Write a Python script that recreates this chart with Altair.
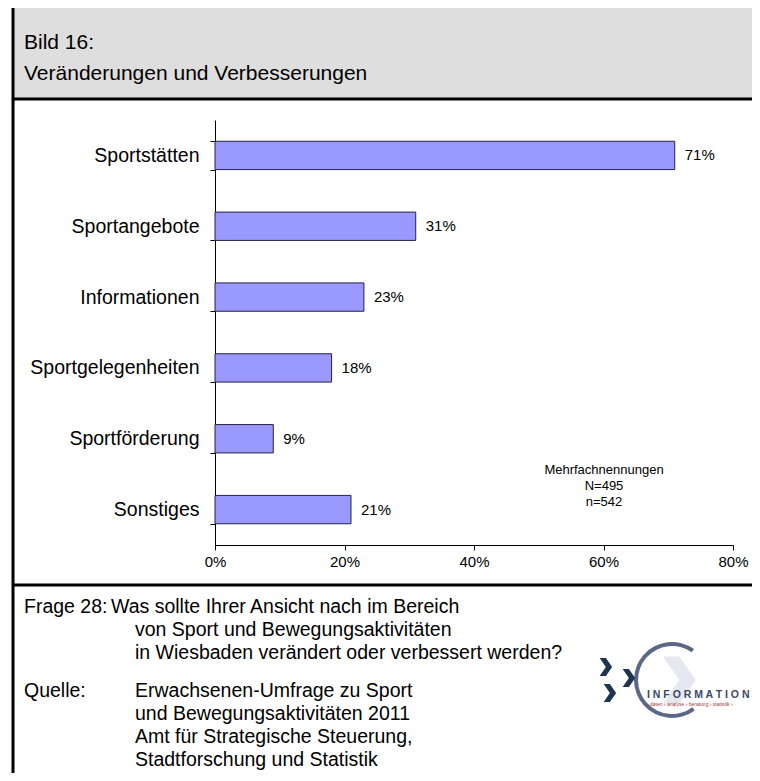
import altair as alt
import pandas as pd

# ---- data ----
categories = ["Sportstätten", "Sportangebote", "Informationen",
              "Sportgelegenheiten", "Sportförderung", "Sonstiges"]
values = [71, 31, 23, 18, 9, 21]
x_ticks = [0, 20, 40, 60, 80]

title_lines = ["Bild 16:", "Veränderungen und Verbesserungen"]
note_lines = ["Mehrfachnennungen", "N=495", "n=542"]
frage_label = "Frage 28:"
frage_lines = ["Was sollte Ihrer Ansicht nach im Bereich",
               "von Sport und Bewegungsaktivitäten",
               "in Wiesbaden verändert oder verbessert werden?"]
quelle_label = "Quelle:"
quelle_lines = ["Erwachsenen-Umfrage zu Sport",
                "und Bewegungsaktivitäten 2011",
                "Amt für Strategische Steuerung,",
                "Stadtforschung und Statistik"]
logo_word = "I N F O R M A T I O N"
logo_sub = "› daten › analyse › beratung › statistik ›"

df = pd.DataFrame({"cat": categories, "val": values,
                   "lab": [f"{v}%" for v in values]})

W, H = 518, 425
one = alt.Data(values=[{"a": 1}])
SANS = "Liberation Sans, Arial, Helvetica"
CHEV = "M-0.6,-1 L0.1,-1 L0.8,0 L0.1,1 L-0.6,1 L0.1,0 Z"

# ---- frame / header ----
header = alt.Chart(one).mark_rect(color="#dedede").encode(
    x=alt.value(-202), x2=alt.value(560), y=alt.value(-114), y2=alt.value(-21))
rules = []
for (x1, x2, y1, y2) in [(-202, -202, -115, 680), (-203, 560, -114, -114),
                         (-202, 560, -21, -21), (-202, 560, 465, 465)]:
    rules.append(alt.Chart(one).mark_rule(color="black", strokeWidth=3).encode(
        x=alt.value(x1), x2=alt.value(x2), y=alt.value(y1), y2=alt.value(y2)))

title_df = pd.DataFrame({"t": title_lines, "i": list(range(len(title_lines)))})
title = alt.Chart(title_df).mark_text(
    align="left", baseline="alphabetic", font=SANS, fontSize=21, color="black"
).encode(x=alt.value(-191),
         y=alt.Y("i:Q", axis=None, scale=alt.Scale(domain=[0, 1], range=[-71, -40])),
         text="t:N")

# ---- bars ----
band = alt.Scale(paddingInner=0.6, paddingOuter=0.3)
y_enc = alt.Y("cat:N", sort=categories, title=None, scale=band,
              axis=alt.Axis(tickBand="extent", tickSize=5, tickColor="black",
                            domainColor="black", labelColor="black",
                            labelFontSize=19.5, labelFont=SANS, labelPadding=11,
                            labelLimit=300))
x_enc = alt.X("val:Q", title=None,
              scale=alt.Scale(domain=[0, 80], nice=False),
              axis=alt.Axis(values=x_ticks, labelExpr="datum.value + '%'",
                            grid=False, tickSize=5, tickColor="black",
                            domainColor="black", labelColor="black",
                            labelFlush=False,
                            labelFontSize=15, labelFont=SANS, labelPadding=4))
bars = alt.Chart(df).mark_bar(color="#9999ff", stroke="#222244",
                              strokeWidth=1).encode(x=x_enc, y=y_enc)
labels = alt.Chart(df).mark_text(align="left", dx=10, fontSize=15, font=SANS,
                                 color="black").encode(
    x=alt.X("val:Q", scale=alt.Scale(domain=[0, 80], nice=False), axis=None),
    y=alt.Y("cat:N", sort=categories, scale=band, axis=None),
    text="lab:N")

note_df = pd.DataFrame({"t": note_lines, "i": list(range(len(note_lines)))})
note = alt.Chart(note_df).mark_text(align="center", fontSize=13, font=SANS,
                                    color="black").encode(
    x=alt.value(389),
    y=alt.Y("i:Q", axis=None, scale=alt.Scale(domain=[0, 2], range=[350, 382])),
    text="t:N")

# ---- footer ----
foot_rows = [{"t": frage_label, "x": -191, "b": 493}]
for k, s in enumerate(frage_lines):
    foot_rows.append({"t": s, "x": -104 if k == 0 else -80, "b": 493 + 23 * k})
foot_rows.append({"t": quelle_label, "x": -191, "b": 577})
for k, s in enumerate(quelle_lines):
    foot_rows.append({"t": s, "x": -80, "b": 577 + 23 * k})
foot_df = pd.DataFrame(foot_rows)
foot = alt.Chart(foot_df).mark_text(align="left", baseline="alphabetic",
                                    font=SANS, fontSize=19.5,
                                    color="black").encode(
    x=alt.X("x:Q", scale=None, axis=None), y=alt.Y("b:Q", scale=None, axis=None),
    text="t:N")

# ---- logo ----
logo_bg = alt.Chart(one).mark_point(
    shape=CHEV, filled=True, color="#e6e8ef", size=2200, opacity=1).encode(
    x=alt.value(462), y=alt.value(560))
arc = alt.Chart(one).mark_arc(radius=38, radius2=34, theta=2.5, theta2=6.9,
                              color="#5b6787").encode(
    x=alt.value(457), y=alt.value(560))
chev_df = pd.DataFrame({"cx": [390, 413, 394], "cy": [547, 558, 573]})
chev = alt.Chart(chev_df).mark_point(
    shape=CHEV, filled=True, color="#1e3450", size=320, opacity=1).encode(
    x=alt.X("cx:Q", scale=None, axis=None), y=alt.Y("cy:Q", scale=None, axis=None))
logo_t = alt.Chart(one).mark_text(align="left", fontSize=10.5, fontWeight="bold",
                                  font=SANS, color="#3a4868").encode(
    x=alt.value(432), y=alt.value(575), text=alt.value(logo_word))
logo_s = alt.Chart(one).mark_text(align="left", fontSize=5, font=SANS,
                                  color="#a03a3a").encode(
    x=alt.value(432), y=alt.value(584), text=alt.value(logo_sub))

chart = alt.layer(
    header, *rules, title, bars, labels, note, foot, logo_bg, arc, chev,
    logo_t, logo_s
).resolve_scale(y="independent", x="independent").properties(
    width=W, height=H,
    background="white",
    autosize=alt.AutoSizeParams(type="none"),
    padding={"left": 207, "top": 112, "right": 19, "bottom": 228},
).configure_view(strokeWidth=0, strokeOpacity=0)

chart.save("out.html", embed_options={"renderer": "svg", "actions": False})
